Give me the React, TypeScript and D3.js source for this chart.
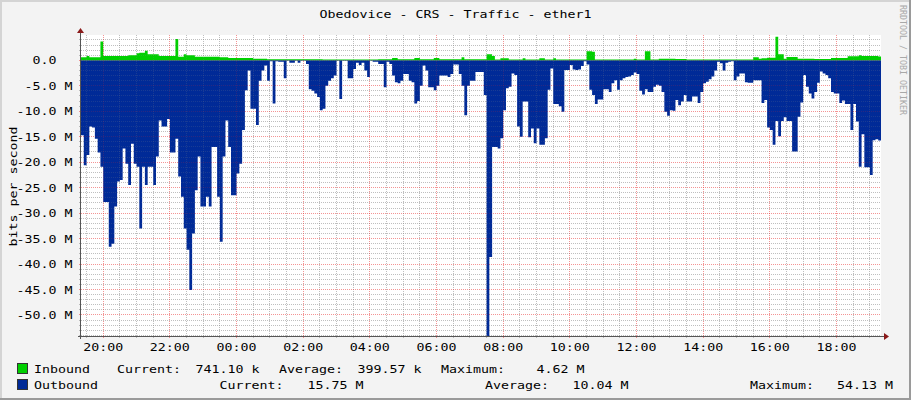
import React from "react";
import * as d3 from "d3";

// ---------- data ----------
const title = "Obedovice - CRS - Traffic - ether1";
const yAxisTitle = "bits per second";
const watermark = "RRDTOOL / TOBI OETIKER";

// 5-minute samples starting 19:20, 288 steps (24 h)
const startTime = new Date(2024, 0, 1, 19, 20);
const stepMinutes = 5;

// Outbound traffic (Mbit/s), drawn below zero
const outbound = [
  14.7, 20.6, 18.6, 13, 13.2, 15.4, 18.1, 20.9, 27.8, 27.8,
  36.6, 36, 28.7, 23.8, 23.5, 17.3, 20.3, 24.5, 16.4, 20.3,
  20.9, 33, 20.9, 24.5, 20.9, 20.9, 24.5, 18.9, 11.8, 13,
  13, 11.5, 18.1, 18.1, 15.4, 22.8, 26.8, 33, 37.2, 45.1,
  34, 25.5, 18.9, 28.7, 28.7, 26.8, 28.7, 17, 17, 26.8,
  35.6, 18.9, 11.8, 17, 26.5, 26.5, 22.2, 20.3, 13.7, 5.9,
  2, 9.5, 9.5, 12.7, 4, 2, 1, 4, 0.2, 8.5,
  0.2, 0.3, 0.3, 3.5, 0.1, 0.5, 0.5, 0.1, 0.5, 0.1,
  0.1, 0.7, 5.7, 6, 6.5, 7.2, 9.8, 9.5, 5, 4,
  3.5, 3, 0.1, 7.6, 0.1, 0.1, 3.5, 3.5, 1.7, 0.5,
  0.9, 0.5, 2, 3.3, 0.1, 0.3, 0.3, 0.7, 0.7, 5.3,
  0.3, 0.7, 3, 4.3, 4.5, 4, 2.7, 2.7, 4, 4.3,
  8.5, 8, 5, 1, 2, 5.3, 5.3, 5.9, 5, 3,
  3, 3, 3.3, 2.7, 0.8, 0.8, 2.7, 5, 10.8, 5,
  4, 4, 2.3, 2.3, 2.3, 6.8, 54.13, 38.6, 17, 17,
  17.3, 15.3, 9.8, 5.5, 5.2, 2.6, 2.9, 13, 15, 8.1,
  8.1, 15.1, 13.4, 16.3, 13.4, 16.6, 16.6, 15.3, 5.8, 1.6,
  8.6, 8.6, 9, 10.1, 1.9, 1.9, 0.9, 1.8, 1.9, 1.8,
  1.1, 0.2, 0.8, 5.8, 6.8, 8.6, 7.7, 7.7, 5.7, 5.7,
  6.2, 4.5, 3.9, 5.8, 3.9, 3.5, 3.3, 3.2, 2.9, 2.4,
  2.7, 6, 6.7, 5.7, 6.2, 6.2, 5.2, 4.8, 5, 6.2,
  10.1, 10.9, 9.8, 9.9, 7.8, 8.8, 8.1, 6.8, 8.1, 8.1,
  7.1, 7.1, 8.4, 6.2, 4.5, 4.2, 3.7, 3.2, 2, 0.3,
  0.6, 2, 0.5, 0.3, 0.2, 3.9, 3.2, 2.6, 2.6, 4.3,
  4.4, 4.4, 3.9, 3.9, 3.9, 8.4, 7.8, 13.2, 13.7, 16.6,
  11.9, 14.9, 11.9, 11.2, 11.9, 11.9, 17.9, 17.9, 11.1, 8.3,
  2.9, 5.2, 6.5, 7.5, 6.2, 4.4, 2.2, 2.6, 2.9, 3.5,
  6.2, 6.5, 6.5, 8.4, 7.9, 8.6, 8.6, 13.7, 8.6, 12,
  20.9, 14.5, 21, 21, 22.5, 15.7, 15.5, 15.75,
];

// Inbound traffic (Mbit/s), drawn above zero
const inbound = [
  0.6, 0.6, 0.85, 0.6, 0.6, 0.6, 0.6, 3.67, 0.85, 0.85,
  0.85, 0.85, 0.85, 0.85, 0.85, 0.85, 0.85, 1, 1, 1,
  1.4, 1.5, 1.5, 1.9, 1.2, 1.2, 1.2, 1.2, 0.85, 0.85,
  0.85, 0.85, 0.85, 0.85, 4.19, 0.7, 0.7, 1.2, 1, 1,
  1, 0.7, 0.7, 0.7, 0.7, 0.7, 0.7, 0.7, 0.7, 0.7,
  0.6, 0.6, 0.6, 0.45, 0.45, 0.45, 0.45, 0.45, 0.45, 0.45,
  0.45, 0.45, 0.3, 0.3, 0.3, 0.3, 0.3, 0.2, 0.2, 0.2,
  0.2, 0.2, 0.2, 0.2, 0.2, 0.2, 0.2, 0.2, 0.2, 0.2,
  0.2, 0.2, 0.2, 0.2, 0.2, 0.2, 0.2, 0.15, 0.15, 0.15,
  0.15, 0.15, 0.15, 0.15, 0.15, 0.15, 0.15, 0.15, 0.15, 0.15,
  0.15, 0.15, 0.15, 0.15, 0.15, 0.15, 0.15, 0.2, 0.2, 0.2,
  0.2, 0.2, 0.45, 0.45, 0.2, 0.2, 0.2, 0.2, 0.2, 0.2,
  0.45, 0.45, 0.2, 0.2, 0.2, 0.2, 0.2, 0.45, 0.45, 0.2,
  0.2, 0.2, 0.2, 0.2, 0.2, 0.2, 0.2, 0.6, 0.2, 0.2,
  0.2, 0.2, 0.2, 0.2, 0.2, 0.2, 1.2, 1.2, 0.85, 0.15,
  0.15, 0.4, 0.4, 0.4, 0.15, 0.15, 0.15, 0.15, 0.15, 0.4,
  0.15, 0.15, 0.15, 0.15, 0.15, 0.4, 0.4, 0.15, 0.15, 0.15,
  0.4, 0.15, 0.15, 0.15, 0.15, 0.15, 0.15, 0.15, 0.15, 0.15,
  0.15, 0.15, 1.8, 1.8, 1.7, 0.15, 0.15, 0.15, 0.15, 0.15,
  0.15, 0.15, 0.15, 0.15, 0.15, 0.15, 0.15, 0.15, 0.15, 0.3,
  0.15, 0.15, 0.15, 1.8, 1.8, 0.15, 0.15, 0.15, 0.3, 0.3,
  0.3, 0.3, 0.3, 0.3, 0.25, 0.25, 0.25, 0.25, 0.15, 0.15,
  0.15, 0.15, 0.15, 0.15, 0.15, 0.15, 0.15, 0.15, 0.15, 0.15,
  0.15, 0.15, 0.15, 0.15, 0.15, 0.15, 0.15, 0.15, 0.15, 0.15,
  0.15, 0.15, 0.6, 0.6, 0.3, 0.4, 0.4, 0.5, 0.5, 0.5,
  4.62, 1.2, 1.2, 0.3, 0.65, 0.65, 0.65, 0.65, 0.3, 0.3,
  0.3, 0.3, 0.3, 0.3, 0.25, 0.25, 0.25, 0.25, 0.25, 0.25,
  0.45, 0.45, 0.45, 0.45, 0.45, 0.45, 0.8, 0.8, 0.8, 0.8,
  1, 0.85, 0.85, 0.85, 0.85, 0.85, 0.85, 0.74,
];

const xTickLabels = ["20:00", "22:00", "00:00", "02:00", "04:00", "06:00", "08:00", "10:00", "12:00", "14:00", "16:00", "18:00"];
const yTickValues = [0, -5, -10, -15, -20, -25, -30, -35, -40, -45, -50];
const yDomain = [-54.13, 4.97];

const legendRows = [
  { name: "Inbound", color: "#00CF00", current: "741.10 k", average: "399.57 k", maximum: "4.62 M" },
  { name: "Outbound", color: "#002A97", current: "15.75 M", average: "10.04 M", maximum: "54.13 M" },
];

// ---------- layout ----------
const W = 911;
const H = 400;
const PL = 81;
const PR = 881;
const PT = 35;
const PB = 336;
const CW = 8; // char advance
const FONT = "'DejaVu Sans Mono', 'Liberation Mono', monospace";

function T({ x, y, s, anchor = "start", size = 11, fill = "#000", transform }: any) {
  const len = s.length * CW;
  let sx = x;
  if (anchor === "end") sx = x - len;
  if (anchor === "middle") sx = x - len / 2;
  return (
    <text
      x={sx}
      y={y}
      fontFamily={FONT}
      fontSize={size}
      fill={fill}
      textLength={len}
      lengthAdjust="spacingAndGlyphs"
      transform={transform}
      style={{ whiteSpace: "pre" }}
    >
      {s}
    </text>
  );
}

export default function App() {
  const endTime = new Date(startTime.getTime() + outbound.length * stepMinutes * 60000);
  const x = d3.scaleTime().domain([startTime, endTime]).range([PL, PR]);
  const y = d3.scaleLinear().domain(yDomain).range([PB, PT]);

  const timeAt = (i: number) => new Date(startTime.getTime() + i * stepMinutes * 60000);

  const outPts = outbound.map((v, i) => ({ t: timeAt(i), v }));
  outPts.push({ t: endTime, v: outbound[outbound.length - 1] });
  const inPts = inbound.map((v, i) => ({ t: timeAt(i), v }));
  inPts.push({ t: endTime, v: inbound[inbound.length - 1] });

  const outArea = d3
    .area<any>()
    .curve(d3.curveStepAfter)
    .x((d) => x(d.t))
    .y0(y(0))
    .y1((d) => y(-d.v))(outPts);
  const inArea = d3
    .area<any>()
    .curve(d3.curveStepAfter)
    .x((d) => x(d.t))
    .y0(y(0))
    .y1((d) => y(d.v))(inPts);

  // grid
  const minorTimes = d3.timeMinute.every(30)!.range(startTime, endTime);
  const majorTimes = d3.timeHour.every(2)!.range(startTime, endTime);
  const majorSet = new Set(majorTimes.map((d) => d.getTime()));
  const minorVals = d3.range(Math.ceil(yDomain[0]), Math.floor(yDomain[1]) + 1, 1).filter((v) => v % 5 !== 0);
  const majorVals = yTickValues;

  const snap = (v: number) => Math.floor(v) + 0.5;
  const minorColor = "rgba(140,140,140,0.45)";
  const majorColor = "rgba(235,40,40,0.38)";
  const overMinor = "rgba(140,140,140,0.18)";
  const overMajor = "rgba(235,40,40,0.18)";

  const xTicks = xTickLabels.map((lab) => {
    const [hh, mm] = lab.split(":").map(Number);
    const d = new Date(startTime);
    d.setHours(hh, mm, 0, 0);
    if (d < startTime) d.setDate(d.getDate() + 1);
    return { lab, px: x(d) };
  });

  const grid = (mc: string, Mc: string, pfx: string) => (
    <g>
      {minorTimes
        .filter((t) => !majorSet.has(t.getTime()))
        .map((t, i) => (
          <line key={pfx + "mv" + i} x1={snap(x(t))} x2={snap(x(t))} y1={PT} y2={PB + 2} stroke={mc} strokeDasharray="1,1" />
        ))}
      {minorVals.map((v, i) => (
        <line key={pfx + "mh" + i} x1={PL - 2} x2={PR} y1={snap(y(v))} y2={snap(y(v))} stroke={mc} strokeDasharray="1,1" />
      ))}
      {majorTimes.map((t, i) => (
        <line key={pfx + "Mv" + i} x1={snap(x(t))} x2={snap(x(t))} y1={PT} y2={PB + 2} stroke={Mc} strokeDasharray="1,1" />
      ))}
      {majorVals.map((v, i) => (
        <line key={pfx + "Mh" + i} x1={PL - 2} x2={PR} y1={snap(y(v))} y2={snap(y(v))} stroke={Mc} strokeDasharray="1,1" />
      ))}
    </g>
  );

  return (
    <svg
      width={W}
      height={H}
      viewBox={`0 0 ${W} ${H}`}
      style={{ position: "absolute", left: 0, top: 0, display: "block" }}
      shapeRendering="crispEdges"
    >
      <rect x={0} y={0} width={W} height={H} fill="#F3F3F3" />
      <rect x={0} y={0} width={W} height={2} fill="#D4D4D4" />
      <rect x={0} y={0} width={2} height={H} fill="#D4D4D4" />
      <rect x={0} y={H - 2} width={W} height={2} fill="#9A9A9A" />
      <rect x={W - 2} y={0} width={2} height={H} fill="#9A9A9A" />

      <rect x={PL} y={PT} width={PR - PL} height={PB - PT} fill="#FFFFFF" />

      {grid(minorColor, majorColor, "u")}

      <path d={outArea || ""} fill="#002A97" shapeRendering="auto" />
      <path d={inArea || ""} fill="#00CF00" shapeRendering="auto" />

      {grid(overMinor, overMajor, "o")}

      <line x1={PL - 3} x2={PR + 4} y1={PB + 0.5} y2={PB + 0.5} stroke="#555" />
      <line x1={PL - 0.5} x2={PL - 0.5} y1={PB + 3} y2={PT - 2} stroke="#555" />
      <polygon points={`${PR + 3},${PB - 3} ${PR + 8},${PB + 0.5} ${PR + 3},${PB + 4}`} fill="#8B1A1A" shapeRendering="auto" />
      <polygon points={`${PL - 4},${PT - 2} ${PL - 0.5},${PT - 7} ${PL + 3},${PT - 2}`} fill="#8B1A1A" shapeRendering="auto" />

      {yTickValues.map((v) => (
        <T key={"yl" + v} x={v === 0 ? 56.5 : 72.5} y={y(v) + 4} s={v === 0 ? "0.0" : `${v.toFixed(1)} M`} anchor="end" />
      ))}

      {xTicks.map((d) => (
        <T key={"xl" + d.lab} x={d.px} y={350.5} s={d.lab} anchor="middle" />
      ))}

      <T x={W / 2} y={18.3} s={title} anchor="middle" />

      <T x={0} y={0} s={yAxisTitle} anchor="middle" transform="translate(16.5,186.5) rotate(-90)" />

      <text
        x={5}
        y={0}
        transform="translate(899.5,0) rotate(90)"
        fontFamily={FONT}
        fontSize={9}
        fill="#A8A8A8"
        textLength={110}
        lengthAdjust="spacingAndGlyphs"
        style={{ whiteSpace: "pre" }}
      >
        {watermark}
      </text>

      {legendRows.map((r, i) => {
        const by = i === 0 ? 373 : 389;
        const pos =
          i === 0
            ? { cur: 117, curV: 259.5, avg: 279, avgV: 421.5, max: 441, maxV: 584.5 }
            : { cur: 219.5, curV: 363.5, avg: 485, avgV: 628.5, max: 750, maxV: 893 };
        return (
          <g key={r.name}>
            <rect x={17.5} y={by - 9.5} width={10} height={10} fill={r.color} stroke="#333" />
            <T x={34} y={by} s={r.name} />
            <T x={pos.cur} y={by} s="Current:" />
            <T x={pos.curV} y={by} s={r.current} anchor="end" />
            <T x={pos.avg} y={by} s="Average:" />
            <T x={pos.avgV} y={by} s={r.average} anchor="end" />
            <T x={pos.max} y={by} s="Maximum:" />
            <T x={pos.maxV} y={by} s={r.maximum} anchor="end" />
          </g>
        );
      })}
    </svg>
  );
}
